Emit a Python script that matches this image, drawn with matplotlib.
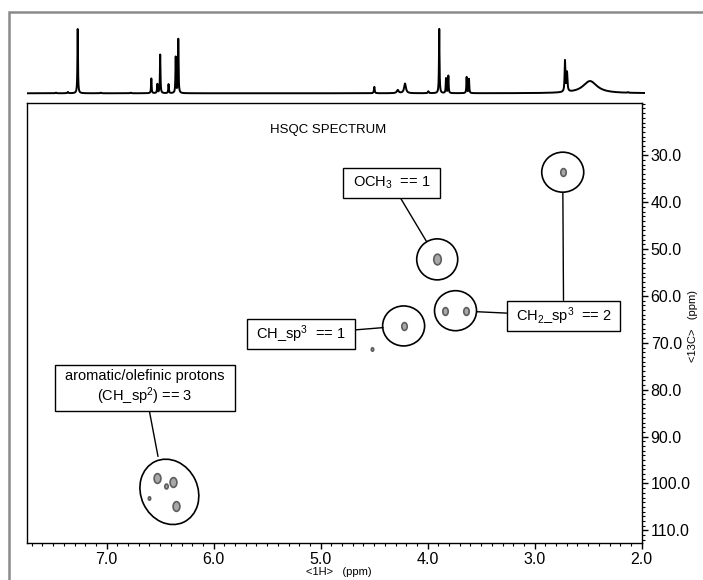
import numpy as np
import matplotlib
matplotlib.use("Agg")
import matplotlib.pyplot as plt
from matplotlib.patches import Ellipse, Rectangle
from matplotlib import transforms
from matplotlib.path import Path
from matplotlib.ticker import MultipleLocator, FormatStrFormatter

plt.rcParams['font.family'] = ['Liberation Sans', 'DejaVu Sans']
plt.rcParams['mathtext.fontset'] = 'custom'
plt.rcParams['mathtext.rm'] = 'Liberation Sans'
plt.rcParams['mathtext.it'] = 'Liberation Sans:italic'

# ---------------- data ----------------
# 1D 1H projection: peak shifts (ppm), relative heights, line widths (ppm)
h1_shift = [7.475, 7.363, 7.271, 7.056, 6.776, 6.583, 6.527, 6.500, 6.422, 6.355, 6.331,
            4.499, 4.280, 4.212, 3.994, 3.892, 3.829, 3.807, 3.636, 3.614,
            2.717, 2.698, 2.483, 2.128]
h1_height = [0.01, 0.02, 1.00, 0.01, 0.01, 0.23, 0.14, 0.60, 0.14, 0.56, 0.84,
             0.10, 0.05, 0.15, 0.03, 1.00, 0.23, 0.27, 0.25, 0.22,
             0.48, 0.30, 0.19, 0.01]
h1_width = [0.01, 0.01, 0.006, 0.01, 0.01, 0.006, 0.006, 0.006, 0.006, 0.006, 0.006,
            0.008, 0.02, 0.02, 0.01, 0.006, 0.006, 0.006, 0.006, 0.006,
            0.008, 0.01, 0.16, 0.01]

# HSQC cross peaks: 1H shift, 13C shift, relative intensity
hsqc_h = [6.526, 6.377, 6.445, 6.605, 6.352, 4.225, 4.523, 3.911, 3.838, 3.642, 2.738]
hsqc_c = [98.9, 99.6, 100.55, 103.0, 104.8, 66.4, 71.4, 52.2, 63.15, 63.15, 33.6]
hsqc_int = [1.0, 1.0, 0.5, 0.35, 1.0, 0.8, 0.35, 1.1, 0.8, 0.8, 0.8]

# annotation groups: label text, member peak indices
group_labels = ["aromatic/olefinic protons\n(CH_sp$^2$) == 3",
                "CH_sp$^3$  == 1",
                "OCH$_3$  == 1",
                "CH$_2$_sp$^3$  == 2"]
group_members = [[0, 1, 2, 3, 4], [5], [7], [8, 9], [10]]

x_ticks = [7.0, 6.0, 5.0, 4.0, 3.0, 2.0]
y_ticks = [30.0, 40.0, 50.0, 60.0, 70.0, 80.0, 90.0, 100.0, 110.0]

# ---------------- figure ----------------
W, H = 703, 580
fig = plt.figure(figsize=(W / 100, H / 100), dpi=100)

def fx(px):
    return px / W

def fy(py):
    return 1 - py / H

# outer gray frame
fig.add_artist(Rectangle((fx(9), -0.2), 2, fy(12) + 0.2, transform=fig.transFigure,
                         fill=False, ec='#8a8a8a', lw=1.8))

x_left, x_right = 7.742, 2.0
ax = fig.add_axes([fx(27.3), fy(542.5), fx(614.4), (542.5 - 103) / H])
ax.set_xlim(x_left, x_right)
ax.set_ylim(112.6, 18.84)

# 1D projection axes
ax1 = fig.add_axes([fx(27.3), fy(100), fx(617.7), 80 / H])
ppm = np.linspace(x_left, 1.969, 40000)
spec = np.zeros_like(ppm)
for s, h, w in zip(h1_shift, h1_height, h1_width):
    g = w / 2
    spec += h * g * g / ((ppm - s) ** 2 + g * g)
ax1.plot(ppm, spec, color='black', lw=1.4)
ax1.set_xlim(x_left, 1.969)
ax1.set_ylim(-0.1045, 1.14)
ax1.axis('off')

# cross peaks
ell = Path.unit_circle().transformed(transforms.Affine2D().scale(0.7, 1.0))
for xh, yc, it in zip(hsqc_h, hsqc_c, hsqc_int):
    ax.scatter([xh], [yc], marker=ell, s=(7.0 * it) ** 2, facecolor='#a8a8a8',
               edgecolor='#5e5e5e', linewidths=1.2, zorder=3)

def at(xc, yc):
    return fig.dpi_scale_trans + transforms.ScaledTranslation(xc, yc, ax.transData)

def circle_at(xc, yc, w_in, h_in, angle=0.0, dx=0.0, dy=0.0):
    ax.add_patch(Ellipse((dx, dy), w_in, h_in, angle=angle, transform=at(xc, yc),
                         fill=False, ec='black', lw=1.2, zorder=4))

def center(idx):
    return np.mean([hsqc_h[i] for i in idx]), np.mean([hsqc_c[i] for i in idx])

def px2x(px):
    return 2.0 + (641.7 - px) / 107.0

def py2y(py):
    return 30.0 + (py - 155.3) / 4.6875

def text_box(text, bx, by, w_px, h_px):
    rect = Rectangle((-w_px / 200, -h_px / 200), w_px / 100, h_px / 100,
                     transform=at(bx, by), fc='white', ec='black', lw=1.0, zorder=5)
    ax.add_patch(rect)
    ax.text(bx, by, text, ha='center', va='center', fontsize=10.5,
            multialignment='center', zorder=6)
    return rect

def link(rect, bx, by, target, shrink_pt):
    ax.annotate('', xy=target, xytext=(bx, by), textcoords='data',
                arrowprops=dict(arrowstyle='-', color='black', lw=1.0, patchA=rect,
                                shrinkA=0, shrinkB=shrink_pt),
                zorder=4)

# aromatic group
cx, cy = center(group_members[0])
circle_at(cx, cy, 0.57, 0.67, angle=25, dx=0.05, dy=-0.02)
bx, by = px2x(145), py2y(388)
r = text_box(group_labels[0], bx, by, 180, 46)
link(r, bx, by, (cx, cy), 24.5)

# CH sp3
cx, cy = center(group_members[1])
circle_at(cx, cy, 0.42, 0.40)
bx, by = px2x(301), py2y(334.3)
r = text_box(group_labels[1], bx, by, 108, 30)
link(r, bx, by, (cx, cy), 14.8)

# OCH3
cx, cy = center(group_members[2])
circle_at(cx, cy, 0.41, 0.41)
bx, by = px2x(391.5), py2y(183)
r = text_box(group_labels[2], bx, by, 97, 30)
link(r, bx, by, (cx, cy), 14.8)

# CH2 pair + CH2 single
cx, cy = center(group_members[3])
circle_at(cx, cy, 0.42, 0.40)
bx, by = px2x(563.6), py2y(315.8)
r = text_box(group_labels[3], bx, by, 113, 30)
link(r, bx, by, (cx, cy), 15.2)
cx2, cy2 = center(group_members[4])
circle_at(cx2, cy2, 0.42, 0.40)
link(r, bx, by, (cx2, cy2), 14.6)

ax.text(0.489, 0.9386, "HSQC SPECTRUM", transform=ax.transAxes, ha='center',
        va='center', fontsize=9.5)

# axes styling
ax.xaxis.set_major_locator(plt.FixedLocator(x_ticks))
ax.xaxis.set_minor_locator(MultipleLocator(0.1))
ax.xaxis.set_major_formatter(FormatStrFormatter('%.1f'))
ax.yaxis.set_major_locator(plt.FixedLocator(y_ticks))
ax.yaxis.set_minor_locator(MultipleLocator(1.0))
ax.yaxis.set_major_formatter(FormatStrFormatter('%.1f'))
ax.yaxis.tick_right()
ax.tick_params(axis='both', which='major', direction='out', length=4, width=1,
               labelsize=11.5, pad=2.5, colors='black')
ax.tick_params(axis='both', which='minor', direction='out', length=2, width=0.8)
ax.tick_params(axis='x', top=False)
ax.tick_params(axis='y', left=False, which='both')
for sp in ax.spines.values():
    sp.set_linewidth(1.0)

fig.text(fx(339), fy(572), "<1H>   (ppm)", ha='center', va='center', fontsize=8)
fig.text(fx(693), fy(326), "<13C>   (ppm)", ha='center', va='center', fontsize=8,
         rotation=90)

fig.savefig("out.png", dpi=100)
